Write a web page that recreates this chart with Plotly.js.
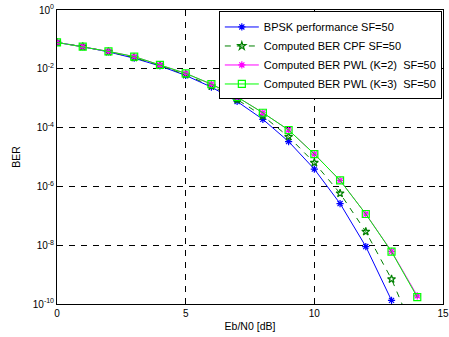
<!DOCTYPE html>
<html>
<head>
<meta charset="utf-8">
<script src="https://cdn.plot.ly/plotly-3.0.1.min.js"></script>
<style>html,body{margin:0;padding:0;background:#fff;}#chart{width:449px;height:337px;}</style>
</head>
<body>
<div id="chart"></div>
<script>
const ebn0Bpsk = [0,1,2,3,4,5,6,7,8,9,10,11,12,13];
const berBpsk = [7.86e-2,5.63e-2,3.75e-2,2.29e-2,1.25e-2,5.95e-3,2.39e-3,7.73e-4,1.91e-4,3.36e-5,3.87e-6,2.61e-7,9.01e-9,1.33e-10];
const ebn0 = [0,1,2,3,4,5,6,7,8,9,10,11,12,13,14];
const berCpf = [7.9e-2,5.7e-2,3.8e-2,2.4e-2,1.3e-2,6.3e-3,2.6e-3,9.0e-4,2.5e-4,4.9e-5,6.4e-6,5.8e-7,2.9e-8,7.0e-10,6e-12];
const berPwl2 = [7.9e-2,5.7e-2,3.9e-2,2.6e-2,1.35e-2,7.0e-3,3.0e-3,1.1e-3,3.2e-4,8.3e-5,1.26e-5,1.6e-6,1.15e-7,6.2e-9,1.9e-10];
const berPwl3 = [7.9e-2,5.7e-2,3.9e-2,2.6e-2,1.35e-2,7.0e-3,3.0e-3,1.1e-3,3.2e-4,8.3e-5,1.26e-5,1.6e-6,1.15e-7,6.0e-9,1.7e-10];
const seriesNames = ['BPSK performance SF=50','Computed BER CPF SF=50','Computed BER PWL (K=2)  SF=50','Computed BER PWL (K=3)  SF=50'];
const yTickVals = [1,1e-2,1e-4,1e-6,1e-8,1e-10];
const yTickText = ['10<sup>0</sup>','10<sup>-2</sup>','10<sup>-4</sup>','10<sup>-6</sup>','10<sup>-8</sup>','10<sup>-10</sup>'];
const xTickVals = [0,5,10,15];

const traces = [
  {x: ebn0Bpsk, y: berBpsk, name: seriesNames[0], mode: 'lines+markers',
   line: {color: '#0000ff', width: 1}, marker: {symbol: 'asterisk-open', size: 6, color: '#0000ff', line: {color: '#0000ff', width: 1.2}}},
  {x: ebn0, y: berCpf, name: seriesNames[1], mode: 'lines+markers',
   line: {color: '#008000', width: 1, dash: '6px,6px'}, marker: {symbol: 'star-open', size: 6, color: '#008000', line: {color: '#008000', width: 1.2}}},
  {x: ebn0, y: berPwl2, name: seriesNames[2], mode: 'lines+markers',
   line: {color: '#ff00ff', width: 1}, marker: {symbol: 'asterisk-open', size: 6, color: '#ff00ff', line: {color: '#ff00ff', width: 1.2}}},
  {x: ebn0, y: berPwl3, name: seriesNames[3], mode: 'lines+markers',
   line: {color: '#00ff00', width: 1}, marker: {symbol: 'square-open', size: 7, color: '#00ff00', line: {color: '#00ff00', width: 1.2}}}
];

const layout = {
  width: 449, height: 337,
  margin: {l: 57, r: 6, t: 10, b: 33},
  paper_bgcolor: '#fff', plot_bgcolor: '#fff',
  font: {family: 'Liberation Sans, Arial, sans-serif', size: 10, color: '#000'},
  showlegend: true,
  legend: {x: 0.997, xanchor: 'right', y: 0.995, yanchor: 'top', bgcolor: '#fff',
           bordercolor: '#000', borderwidth: 1, font: {size: 11}, tracegroupgap: 0,
           itemwidth: 34},
  xaxis: {range: [0, 15], tickvals: xTickVals, ticks: 'inside', ticklen: 4, tickcolor: '#000',
          showline: true, linecolor: '#000', linewidth: 1, mirror: 'ticks',
          showgrid: true, gridcolor: '#000', griddash: '6px,6px', gridwidth: 1, zeroline: false,
          title: {text: 'Eb/N0 [dB]', font: {size: 10.5}, standoff: 4}},
  yaxis: {type: 'log', range: [-10, 0], tickvals: yTickVals, ticktext: yTickText,
          ticks: 'inside', ticklen: 4, tickcolor: '#000',
          showline: true, linecolor: '#000', linewidth: 1, mirror: 'ticks',
          showgrid: true, gridcolor: '#000', griddash: '6px,6px', gridwidth: 1, zeroline: false,
          title: {text: 'BER', font: {size: 10.5}, standoff: 10}}
};

Plotly.newPlot('chart', traces, layout, {displayModeBar: false, staticPlot: true});
</script>
</body>
</html>
